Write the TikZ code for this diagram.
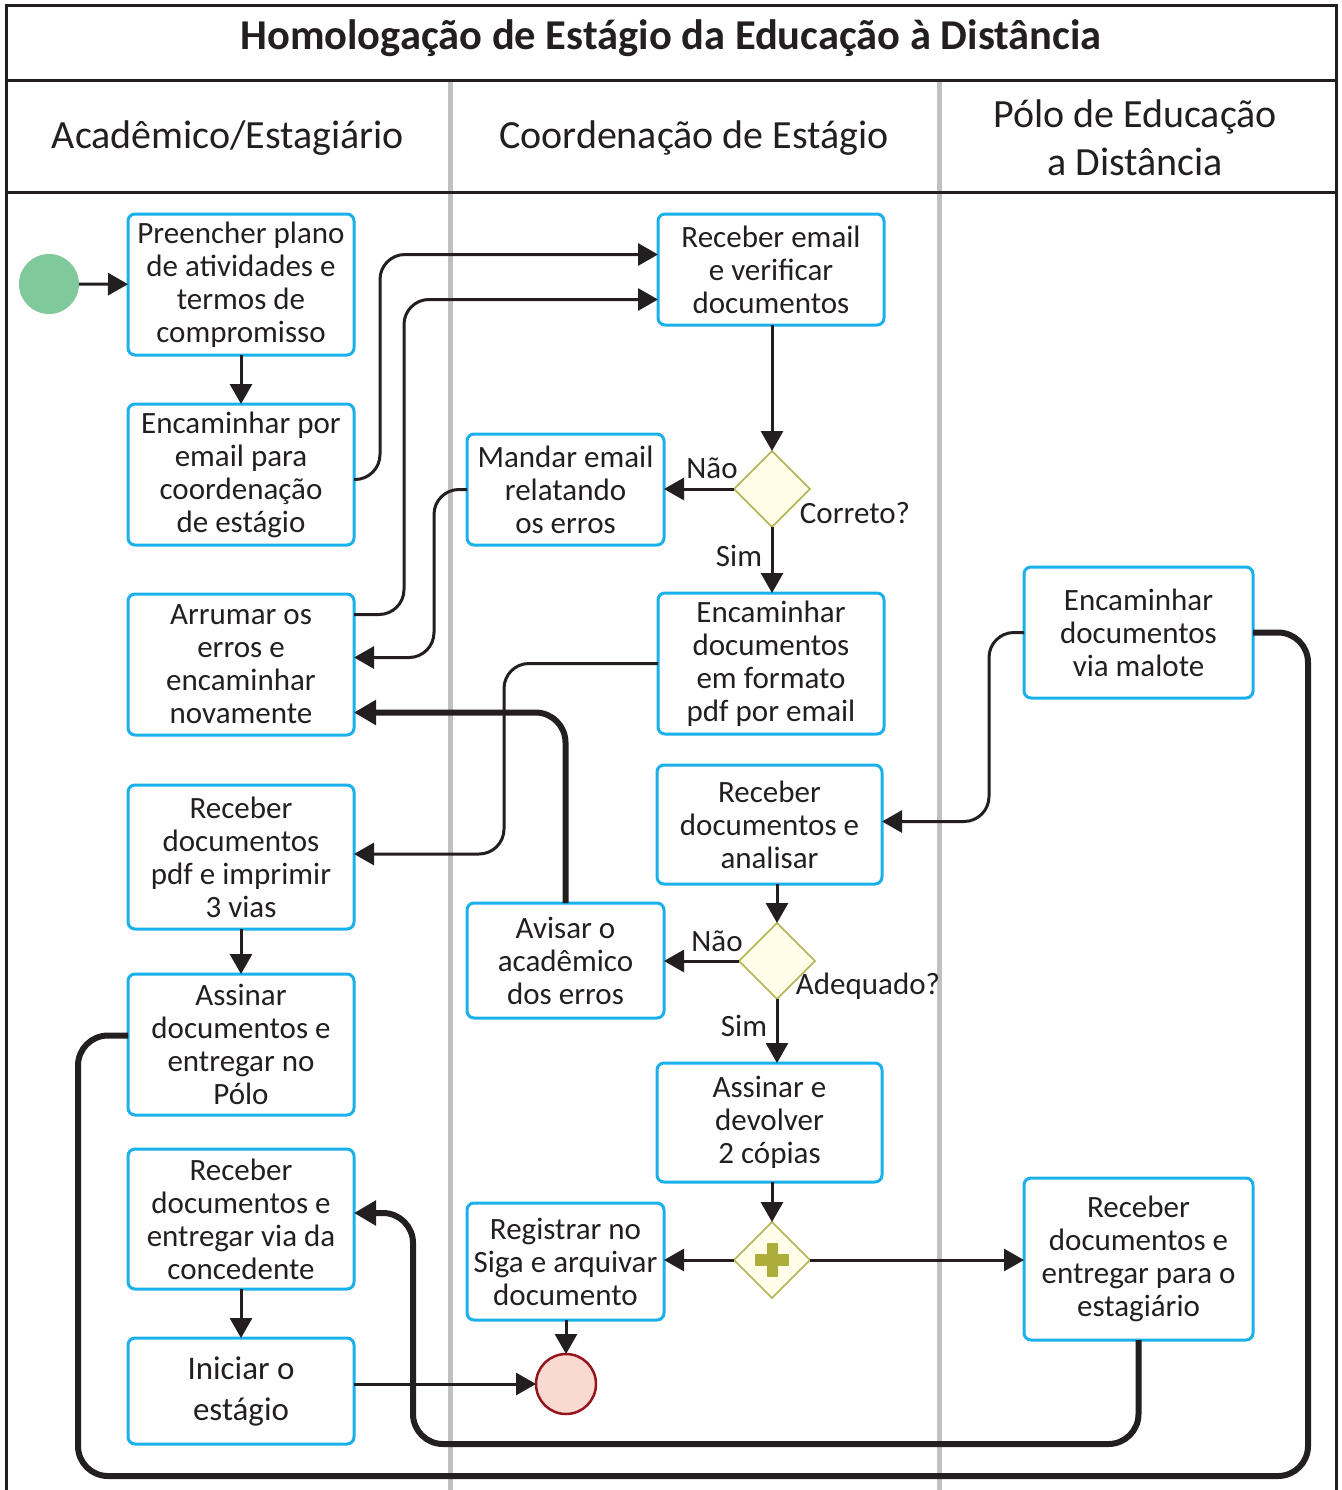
\documentclass[tikz,border=0pt]{standalone}
\usepackage{fontspec}
\setmainfont{Carlito}
\usetikzlibrary{arrows.meta,shapes.geometric}

\definecolor{ink}{RGB}{35,31,32}
\definecolor{boxblue}{RGB}{26,176,236}
\definecolor{lanegray}{RGB}{192,192,196}
\definecolor{startgreen}{RGB}{128,201,155}
\definecolor{endfill}{RGB}{250,218,208}
\definecolor{endline}{RGB}{150,20,30}
\definecolor{gwfill}{RGB}{255,253,232}
\definecolor{gwline}{RGB}{180,178,80}
\definecolor{plusolive}{RGB}{173,173,60}

\tikzset{
  task/.style={draw=boxblue, line width=3pt, rounded corners=7pt, minimum width=226pt,
    align=center, inner sep=2pt, outer sep=0pt, text=ink, font=\fontsize{31}{33}\selectfont},
  gateway/.style={draw=gwline, fill=gwfill, line width=1.5pt, diamond, minimum width=76pt,
    minimum height=76pt, inner sep=0pt, outer sep=0pt},
  header/.style={text=ink, align=center, font=\fontsize{40}{48}\selectfont},
  lbl/.style={text=ink, inner sep=0pt, font=\fontsize{31}{33}\selectfont},
  flow/.style={draw=ink, line width=3pt, rounded corners=25pt, -{Triangle[length=20pt,width=22pt]}},
  thickflow/.style={draw=ink, line width=6pt, rounded corners=30pt},
  frame/.style={draw=ink, line width=3pt},
  lane/.style={draw=lanegray, line width=5pt}
}

\begin{document}
\begin{tikzpicture}[x=1pt,y=-1pt]
    \useasboundingbox (0,0) rectangle (1341,1490);

    % raias e cabecalho
    \draw[lane] (450,81) -- (450,1490);
    \draw[lane] (939,81) -- (939,1490);
    \draw[frame] (6,1490) -- (6,6) -- (1336,6) -- (1336,1490);
    \draw[frame] (6,81) -- (1336,81);
    \draw[frame] (6,193) -- (1336,193);

    \node[text=ink, font=\fontsize{42.5}{44}\selectfont\bfseries] (titulo) at (671,38) {Homologação de Estágio da Educação à Distância};
    \node[header] (raiaA) at (228,138) {Acadêmico/Estagiário};
    \node[header] (raiaB) at (694,138) {Coordenação de Estágio};
    \node[header] (raiaC) at (1135,138) {Pólo de Educação\\a Distância};

    % eventos
    \node[circle, fill=startgreen, minimum size=60pt, inner sep=0pt, outer sep=0pt] (inicio) at (49,284) {};
    \node[circle, draw=endline, fill=endfill, line width=2.5pt, minimum size=60pt, inner sep=0pt, outer sep=0pt] (fim) at (566,1384) {};

    % Academico/Estagiario
    \node[task, minimum height=141pt] (preencher) at (241,284.5) {Preencher plano\\de atividades e\\termos de\\compromisso};
    \node[task, minimum height=141pt] (encEmail) at (241,474.5) {Encaminhar por\\email para\\coordenação\\de estágio};
    \node[task, minimum height=141pt] (arrumar) at (241,664.5) {Arrumar os\\erros e\\encaminhar\\novamente};
    \node[task, minimum height=144pt] (recPdf) at (241,857) {Receber\\documentos\\pdf e imprimir\\3 vias};
    \node[task, minimum height=141pt] (assinarPolo) at (241,1044.5) {Assinar\\documentos e\\entregar no\\Pólo};
    \node[task, minimum height=140pt] (concedente) at (241,1219) {Receber\\documentos e\\entregar via da\\concedente};
    \node[task, minimum height=106pt, font=\fontsize{33}{41}\selectfont] (iniciar) at (241,1391) {Iniciar o\\estágio};

    % Coordenacao de Estagio
    \node[task, minimum height=111pt] (recEmail) at (771,269.5) {Receber email\\e verificar\\documentos};
    \node[task, minimum width=197pt, minimum height=111pt] (mandar) at (565.5,489.5) {Mandar email\\relatando\\os erros};
    \node[gateway] (correto) at (772,489) {};
    \node[task, minimum height=141pt] (encPdf) at (771,663.5) {Encaminhar\\documentos\\em formato\\pdf por email};
    \node[task, minimum width=225pt, minimum height=119pt] (analisar) at (769.5,824.5) {Receber\\documentos e\\analisar};
    \node[task, minimum width=197pt, minimum height=115pt] (avisar) at (565.5,960.5) {Avisar o\\acadêmico\\dos erros};
    \node[gateway] (adequado) at (777,961) {};
    \node[task, minimum width=225pt, minimum height=119pt] (devolver) at (769.5,1122.5) {Assinar e\\devolver\\2 cópias};
    \node[task, minimum width=197pt, minimum height=117pt] (registrar) at (565.5,1261.5) {Registrar no\\Siga e arquivar\\documento};
    \node[gateway] (paralelo) at (772,1260) {};
    \draw[plusolive, line width=12pt] ([xshift=-17pt]paralelo.center) -- ([xshift=17pt]paralelo.center);
    \draw[plusolive, line width=11pt] ([yshift=-17pt]paralelo.center) -- ([yshift=17pt]paralelo.center);

    % Polo de Educacao a Distancia
    \node[task, minimum width=229pt, minimum height=131pt] (malote) at (1138.5,632.5) {Encaminhar\\documentos\\via malote};
    \node[task, minimum width=229pt, minimum height=162pt] (entregaEst) at (1138.5,1259) {Receber\\documentos e\\entregar para o\\estagiário};

    % rotulos
    \node[lbl] (naoA) at (712,468) {Não};
    \node[lbl] (corretoTxt) at (855,513) {Correto?};
    \node[lbl] (simA) at (739,556) {Sim};
    \node[lbl] (naoB) at (717,941) {Não};
    \node[lbl] (adequadoTxt) at (868,986) {Adequado?};
    \node[lbl] (simB) at (744,1026) {Sim};

    \coordinate (voltaA) at (78,1476);
    \coordinate (voltaB) at (1308,1476);
    \coordinate (retorno) at (413,1444);

    % fluxos
    \draw[flow] (inicio) -- (preencher);
    \draw[flow] (preencher) -- (encEmail);
    \draw[flow] ([yshift=-5pt]encEmail.east) -- ++(26,0) |- ([yshift=15pt]recEmail.west);
    \draw[flow] ([yshift=50pt]arrumar.east) -- ++(50,0) |- ([yshift=-30pt]recEmail.west);
    \draw[flow] (recEmail.south -| correto.north) -- (correto.north);
    \draw[flow] (correto.west) -- (mandar.east |- correto.west);
    \draw[flow] (correto.south) -- (correto.south |- encPdf.north);
    \draw[flow] (mandar.west) -- ++(-33,0) |- ([yshift=7pt]arrumar.east);
    \draw[flow] (encPdf.west) -- ++(-154,0) |- ([yshift=3pt]recPdf.east);
    \draw[flow] (recPdf) -- (assinarPolo);
    \draw[flow] (concedente) -- (iniciar);
    \draw[thickflow] ([yshift=9pt]assinarPolo.west) -| (voltaA) -- (voltaB) |- (malote.east);
    \draw[flow] (malote.west) -- ++(-35,0) |- ([yshift=3pt]analisar.east);
    \draw[flow] (adequado.north |- analisar.south) -- (adequado.north);
    \draw[flow] (adequado.west) -- (avisar.east |- adequado.west);
    \draw[flow] (adequado.south) -- (adequado.south |- devolver.north);
    \draw[thickflow, -{Triangle[length=22pt,width=24pt]}] (avisar.north) |- ([yshift=-48pt]arrumar.east);
    \draw[flow] (paralelo.north |- devolver.south) -- (paralelo.north);
    \draw[flow] (paralelo.west) -- (registrar.east |- paralelo.west);
    \draw[flow] (paralelo.east) -- (entregaEst.west |- paralelo.east);
    \draw[flow] (registrar.south -| fim.north) -- (fim.north);
    \draw[flow] (iniciar.east |- fim.west) -- (fim.west);
    \draw[thickflow, -{Triangle[length=22pt,width=24pt]}] (entregaEst.south) |- (retorno) |- ([yshift=6pt]concedente.east);
\end{tikzpicture}
\end{document}
